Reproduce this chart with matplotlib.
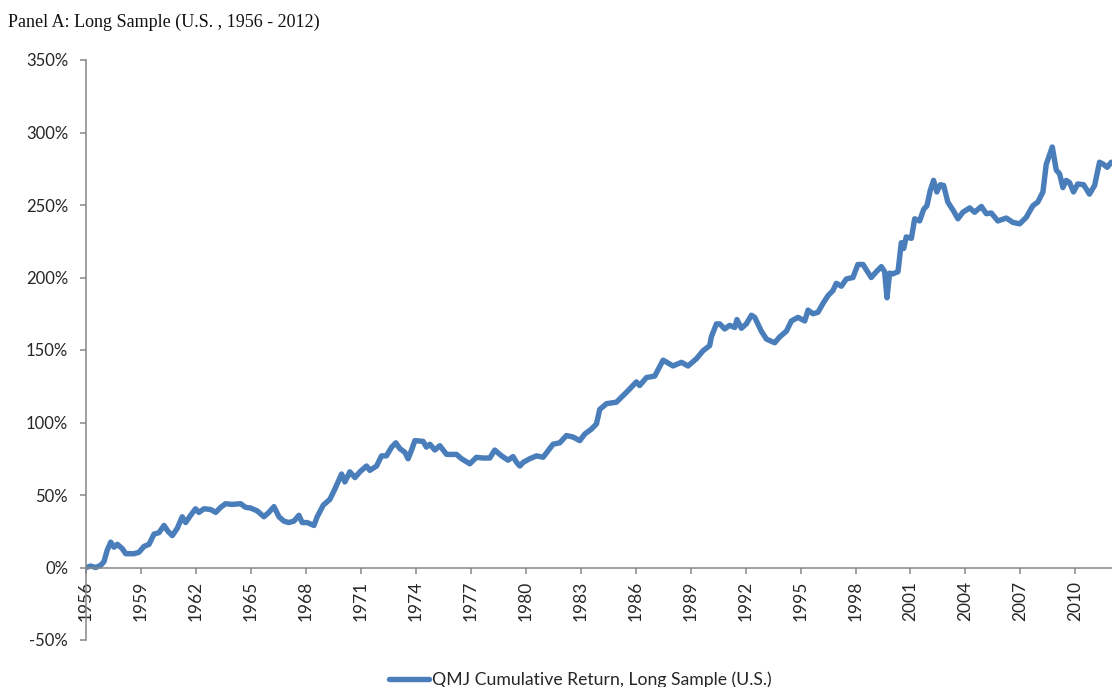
import matplotlib
matplotlib.use("Agg")
import matplotlib.pyplot as plt
import matplotlib.ticker as mticker

# QMJ cumulative return, long sample (U.S.)
years = [
    1956.00, 1956.26, 1956.53, 1956.80, 1956.98, 1957.16, 1957.35, 1957.53, 1957.71, 1957.98,
    1958.17, 1958.62, 1958.89, 1959.16, 1959.44, 1959.71, 1959.98, 1960.26, 1960.47, 1960.71,
    1960.98, 1961.25, 1961.44, 1961.71, 1961.98, 1962.16, 1962.44, 1962.80, 1963.08, 1963.35,
    1963.62, 1963.98, 1964.44, 1964.71, 1964.99, 1965.35, 1965.71, 1965.98, 1966.26, 1966.53,
    1966.80, 1967.07, 1967.35, 1967.62, 1967.80, 1968.07, 1968.44, 1968.62, 1968.95, 1969.31,
    1969.58, 1969.95, 1970.13, 1970.40, 1970.68, 1970.95, 1971.31, 1971.49, 1971.86, 1972.13,
    1972.40, 1972.68, 1972.91, 1973.13, 1973.40, 1973.58, 1973.77, 1973.95, 1974.40, 1974.58,
    1974.77, 1975.04, 1975.31, 1975.68, 1976.22, 1976.50, 1976.95, 1977.31, 1977.67, 1978.04,
    1978.31, 1978.68, 1979.04, 1979.31, 1979.50, 1979.68, 1979.86, 1980.22, 1980.59, 1980.95,
    1981.22, 1981.49, 1981.86, 1982.22, 1982.58, 1982.95, 1983.22, 1983.59, 1983.86, 1984.04,
    1984.41, 1984.95, 1985.31, 1985.59, 1986.04, 1986.22, 1986.59, 1987.04, 1987.50, 1988.04,
    1988.50, 1988.86, 1989.32, 1989.68, 1990.04, 1990.13, 1990.41, 1990.59, 1990.86, 1991.13,
    1991.41, 1991.53, 1991.77, 1992.04, 1992.32, 1992.50, 1992.86, 1993.14, 1993.59, 1993.86,
    1994.23, 1994.50, 1994.86, 1995.23, 1995.41, 1995.68, 1995.95, 1996.22, 1996.50, 1996.77,
    1996.95, 1997.23, 1997.50, 1997.86, 1998.13, 1998.41, 1998.68, 1998.86, 1999.14, 1999.41,
    1999.59, 1999.72, 1999.86, 2000.04, 2000.32, 2000.50, 2000.63, 2000.77, 2001.05, 2001.23,
    2001.50, 2001.72, 2001.90, 2002.08, 2002.26, 2002.44, 2002.63, 2002.81, 2003.04, 2003.32,
    2003.59, 2003.86, 2004.23, 2004.50, 2004.87, 2005.14, 2005.41, 2005.77, 2006.23, 2006.59,
    2006.96, 2007.32, 2007.68, 2007.95, 2008.23, 2008.41, 2008.74, 2008.96, 2009.14, 2009.32,
    2009.50, 2009.68, 2009.90, 2010.13, 2010.45, 2010.77, 2011.05, 2011.32, 2011.54, 2011.74,
    2011.96,
]
cum_return = [
    0, 1, 0, 1.5, 4, 12, 17.5, 14, 16, 13,
    9.5, 9.5, 10.5, 14.5, 16, 23, 24, 29, 25, 22,
    27, 35, 31, 36, 40.5, 38, 40.5, 40, 38, 41.5,
    44, 43.5, 44, 41.5, 41, 39, 35, 38, 42, 35,
    32, 31, 32, 36, 31, 31, 29, 35, 43, 47,
    54, 64.5, 59, 66, 62, 66, 70, 67, 70, 77,
    77, 83, 86, 82, 79.5, 75, 81, 87.5, 87, 83,
    85, 81, 84, 78, 78, 75, 71.5, 76, 75.5, 75.5,
    81, 77, 74, 76.5, 72.5, 70, 72.5, 75, 77, 76,
    80.5, 85, 86, 91, 90, 87.5, 92, 95.5, 99, 109,
    113, 114, 118.5, 122, 128, 125.5, 131, 132, 143, 139,
    141.5, 139, 144, 149.5, 153, 159, 168, 168, 164.5, 167,
    165.5, 171, 165, 168, 174, 172.5, 163, 157.5, 155, 159,
    163, 170, 172.5, 170, 177.5, 175, 176, 182, 187.5, 191,
    196, 194, 199, 200, 209, 209, 203.5, 200, 204, 207.5,
    204, 186, 203, 202.5, 204, 224, 220, 228, 227, 240.5,
    239, 247, 249.5, 260, 267, 259, 264, 263.5, 252, 246.5,
    240.5, 245, 248, 245, 249, 244, 244.5, 239, 241, 238,
    237, 241.5, 249.5, 252, 259, 278, 290, 274, 271.5, 262,
    267, 265.5, 259, 264.5, 264, 257.5, 263.5, 279.5, 278, 276,
    279.5,
]
year_ticks = list(range(1956, 2011, 3))
pct_ticks = list(range(-50, 351, 50))

title = "Panel A: Long Sample (U.S. , 1956 - 2012)"
series_label = "QMJ Cumulative Return, Long Sample (U.S.)"

line_color = "#4a7ebb"
axis_color = "#868686"
text_color = "#262626"

plt.rcParams["font.family"] = ["Lato", "DejaVu Sans"]

fig = plt.figure(figsize=(11.12, 6.87), dpi=100)
ax = fig.add_axes([86 / 1112, 1 - 640 / 687, 1 - 86 / 1112, (640 - 60) / 687])

ax.plot(years, cum_return, color=line_color, lw=3.9, solid_joinstyle="round",
        solid_capstyle="round", label=series_label)

# move the x axis up to the 0% line first (this rebuilds the ticks)
for s in ["top", "right"]:
    ax.spines[s].set_visible(False)
ax.spines["bottom"].set_position(("data", 0))
for s in ["left", "bottom"]:
    ax.spines[s].set_color(axis_color)
    ax.spines[s].set_linewidth(1.1)

ax.set_xlim(1956, 2012)
ax.set_ylim(-50, 350)
ax.set_yticks(pct_ticks)
ax.yaxis.set_major_formatter(mticker.FuncFormatter(lambda v, p: f"{v:.0f}%"))
ax.set_xticks(year_ticks)
ax.set_xticklabels([str(y) for y in year_ticks])

ax.tick_params(axis="y", direction="out", length=4.3, width=1.1, color=axis_color,
               pad=8.6, labelsize=12, labelcolor=text_color)
ax.tick_params(axis="x", direction="out", length=4.3, width=1.1, color=axis_color,
               pad=5.5, labelsize=12.5, labelcolor=text_color, labelrotation=90)
ax.set_facecolor("none")

fig.text(8 / 1112, 1 - 22 / 687, title, family="Liberation Serif", fontsize=13,
         va="center", ha="left", color="#111111")

fig.legend(loc="center", bbox_to_anchor=(580 / 1112, 1 - 680 / 687), frameon=False,
           handlelength=2.3, handletextpad=0.15, fontsize=12.7,
           labelcolor=text_color)

fig.savefig("out.png", dpi=100)
